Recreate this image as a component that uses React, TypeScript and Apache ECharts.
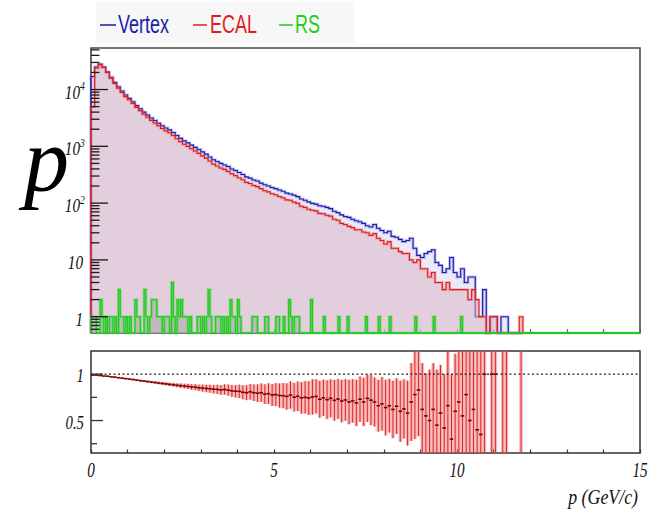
import React, { useEffect, useRef } from "react";
import * as echarts from "echarts";

// ---------- data ----------
const BIN_WIDTH = 0.1; // GeV
const vertexCounts = [
  17000, 25000, 28000, 25000, 20500, 16500, 13400, 11200, 9400, 8000,
  7000, 6100, 5200, 4600, 4000, 3550, 3150, 2850, 2550, 2300,
  2100, 1950, 1750, 1550, 1380, 1250, 1150, 1050, 960, 880,
  800, 730, 650, 580, 540, 500, 470, 440, 400, 375,
  345, 320, 290, 275, 255, 245, 225, 210, 200, 188,
  180, 170, 162, 150, 145, 138, 130, 118, 112, 105,
  99, 96, 90, 88, 84, 80, 72, 68, 62, 58,
  56, 52, 49, 47, 44, 40, 38, 42, 36, 33,
  30, 32, 26, 25, 23, 21, 22, 24, 16, 12,
  11, 13, 14, 15, 9, 8, 6, 7, 11, 6,
  5, 7, 4, 5, 5, 1, 1, 3, 0, 1,
  1, 0, 1, 1, 0, 0, 0, 0,
];
const ecalCounts = [
  5000, 24000, 27500, 24500, 19900, 15900, 12800, 10600, 8900, 7500,
  6600, 5700, 4850, 4250, 3680, 3250, 2870, 2580, 2300, 2060,
  1870, 1730, 1550, 1360, 1210, 1090, 1000, 905, 825, 750,
  680, 620, 550, 485, 450, 415, 392, 362, 328, 305,
  280, 258, 232, 222, 204, 195, 180, 165, 158, 146,
  140, 131, 124, 114, 112, 104, 99, 88, 84, 78,
  75, 73, 66, 65, 61, 59, 52, 50, 44, 42,
  39, 37, 34, 34, 31, 30, 27, 29, 24, 22,
  19, 21, 16, 16, 14, 13, 13, 10, 9, 10,
  7, 7, 5, 6, 4, 4, 3, 4, 3, 3,
  3, 3, 3, 2, 3, 2, 1, 1, 0, 1,
  1, 0, 0, 0, 0, 0, 0, 1,
];
const RS_BIN_WIDTH = 0.05;
const RS_NBINS = 300;
const rsBinStart = [
  0.0, 0.05, 0.1, 0.25, 0.3, 0.4, 0.5, 0.55, 0.65, 0.75,
  0.8, 0.85, 0.95, 1.05, 1.2, 1.25, 1.3, 1.45, 1.5, 1.6,
  1.65, 1.7, 1.75, 1.8, 1.85, 1.9, 2.0, 2.05, 2.1, 2.2,
  2.25, 2.35, 2.4, 2.45, 2.5, 2.55, 2.6, 2.7, 2.9, 2.95,
  3.05, 3.15, 3.2, 3.25, 3.4, 3.45, 3.5, 3.6, 3.7, 3.8,
  3.85, 3.9, 4.0, 4.05, 4.4, 4.45, 4.5, 4.75, 4.8, 5.05,
  5.1, 5.25, 5.4, 5.45, 5.55, 5.6, 5.65, 6.0, 6.35, 6.75,
  7.0, 7.5, 7.85, 8.15, 8.85, 9.35, 10.1,
];
const rsCounts = [
  1, 1, 1, 2, 1, 1, 1, 1, 1, 3,
  1, 1, 1, 1, 2, 1, 1, 3, 1, 1,
  2, 2, 2, 1, 1, 1, 1, 1, 1, 4,
  1, 2, 1, 2, 1, 1, 1, 1, 1, 1,
  1, 1, 3, 1, 1, 1, 1, 1, 1, 2,
  1, 1, 2, 1, 1, 1, 1, 1, 1, 1,
  1, 1, 2, 1, 1, 1, 1, 2, 1, 1,
  1, 1, 1, 1, 1, 1, 1,
];
const ratioVal: (number | null)[] = [
  0.99, 0.99, 0.985, 0.98, 0.978, 0.972, 0.968, 0.962, 0.957, 0.952,
  0.947, 0.942, 0.936, 0.93, 0.926, 0.92, 0.915, 0.91, 0.905, 0.9,
  0.895, 0.89, 0.886, 0.88, 0.876, 0.872, 0.868, 0.862, 0.86, 0.853,
  0.85, 0.846, 0.843, 0.838, 0.836, 0.83, 0.835, 0.828, 0.82, 0.816,
  0.815, 0.805, 0.8, 0.81, 0.8, 0.795, 0.8, 0.785, 0.79, 0.775,
  0.78, 0.77, 0.768, 0.76, 0.775, 0.752, 0.762, 0.745, 0.75, 0.742,
  0.755, 0.76, 0.73, 0.745, 0.725, 0.74, 0.718, 0.732, 0.71, 0.722,
  0.7, 0.712, 0.69, 0.73, 0.7, 0.74, 0.72, 0.7, 0.66, 0.68,
  0.64, 0.66, 0.62, 0.655, 0.6, 0.625, 0.58, 0.7, 0.78, 0.83,
  0.62, 0.55, 0.5, 0.62, 0.45, 0.58, 0.42, 0.66, 0.3, 0.6,
  0.7, 0.55, 0.78, 0.5, 0.62, 0.4, 0.35, 1.0, null, 1.0,
  1.0, null, 0, 0, null, null, null, 2.5,
];
const ratioErr: (number | null)[] = [
  0.004, 0.003, 0.003, 0.003, 0.004, 0.004, 0.005, 0.005, 0.006, 0.006,
  0.007, 0.008, 0.009, 0.009, 0.01, 0.011, 0.012, 0.013, 0.014, 0.015,
  0.017, 0.018, 0.02, 0.022, 0.024, 0.026, 0.028, 0.03, 0.033, 0.035,
  0.038, 0.04, 0.043, 0.046, 0.05, 0.053, 0.056, 0.06, 0.064, 0.068,
  0.072, 0.076, 0.08, 0.085, 0.09, 0.095, 0.1, 0.106, 0.112, 0.118,
  0.124, 0.13, 0.136, 0.142, 0.148, 0.155, 0.16, 0.17, 0.175, 0.182,
  0.19, 0.185, 0.2, 0.195, 0.21, 0.205, 0.22, 0.215, 0.23, 0.225,
  0.24, 0.235, 0.25, 0.245, 0.26, 0.255, 0.27, 0.265, 0.28, 0.29,
  0.3, 0.29, 0.31, 0.3, 0.33, 0.32, 0.35, 0.42, 0.48, 0.5,
  0.5, 0.46, 0.55, 0.5, 0.6, 0.52, 0.58, 0.62, 0.7, 0.62,
  0.7, 0.8, 0.9, 0.8, 1.0, 1.2, 1.5, 2, null, 2,
  2, null, 3, 3, null, null, null, 3,
];

const yTopMajor = [1, 10, 100, 1000, 10000];
const yTopLabelBase = ["1", "10", "10", "10", "10"];
const yTopLabelExp = ["", "", "2", "3", "4"];
const yTopMinorMultipliers = [2, 3, 4, 5, 6, 7, 8, 9];
const yTopMinorBelowOne = [0.6, 0.7, 0.8, 0.9];
const ratioMajor = [0.5, 1];
const ratioMajorLabels = ["0.5", "1"];
const ratioMinor = [0.25, 0.75];
const xLabelValues = [0, 5, 10, 15];
const legendNames = ["Vertex", "ECAL", "RS"];

const X_MIN = 0;
const X_MAX = 15;
const Y_TOP_MIN = 0.516;
const Y_TOP_MAX = 53900;
const R_MIN = 0.15;
const R_MAX = 1.25;

const C_VERTEX = "#1c1ca8";
const C_ECAL = "#e01c1c";
const C_RS = "#1ecf1e";
const SERIF = '"Liberation Serif", "Times New Roman", serif';
const SANS = '"Liberation Sans", Arial, sans-serif';

function histRenderer(
  counts: number[],
  width: number,
  fill: string,
  stroke: string,
  halo: string,
  lw: number
) {
  return (params: any, api: any) => {
    const cs = params.coordSys;
    const bottom = cs.y + cs.height;
    const toY = (v: number) =>
      v > 0 ? Math.min(bottom, Math.max(cs.y, api.coord([0, v])[1])) : bottom;
    const px = (x: number) => api.coord([x, 1])[0];
    const pts: number[][] = [[px(0), bottom]];
    for (let i = 0; i < counts.length; i++) {
      const y = toY(counts[i]);
      pts.push([px(i * width), y]);
      pts.push([px((i + 1) * width), y]);
    }
    pts.push([px(counts.length * width), bottom]);
    return {
      type: "group",
      children: [
        { type: "polygon", shape: { points: pts }, style: { fill, stroke: null } },
        { type: "polyline", shape: { points: pts }, style: { fill: null, stroke: halo, lineWidth: lw + 1.8 } },
        { type: "polyline", shape: { points: pts }, style: { fill: null, stroke, lineWidth: lw } },
      ],
    };
  };
}

function textEl(x: number, y: number, text: string, size: number, align: string, scaleX: number, fill = "#111", family = SERIF, italic = true) {
  return {
    type: "text",
    x,
    y,
    scaleX,
    style: {
      text,
      fill,
      fontSize: size,
      fontFamily: family,
      fontStyle: italic ? "italic" : "normal",
      align,
      textAlign: align,
      verticalAlign: "middle",
      textVerticalAlign: "middle",
    },
  };
}

export default function App() {
  const ref = useRef<HTMLDivElement>(null);

  useEffect(() => {
    if (!ref.current) return;
    const chart = echarts.init(ref.current, undefined, { renderer: "svg" });

    // RS full histogram table from sparse bins
    const rsFull: number[] = new Array(RS_NBINS).fill(0);
    rsBinStart.forEach((s, k) => {
      rsFull[Math.round(s / RS_BIN_WIDTH)] = rsCounts[k];
    });

    // y ticks of the top panel
    const topTicks: number[][] = [];
    yTopMajor.forEach((v) => topTicks.push([0, v, 17]));
    yTopMajor.forEach((d) =>
      yTopMinorMultipliers.forEach((m) => {
        if (d * m <= Y_TOP_MAX) topTicks.push([0, d * m, 8.5]);
      })
    );
    yTopMinorBelowOne.forEach((v) => topTicks.push([0, v, 8.5]));
    const topLabels = yTopMajor.map((v, i) => [0, v, i]);

    const ratioTicks: number[][] = [
      ...ratioMajor.map((v) => [0, v, 12]),
      ...ratioMinor.map((v) => [0, v, 6]),
    ];
    const ratioLabels = ratioMajor.map((v, i) => [0, v, i]);

    const ratioData: number[][] = [];
    ratioVal.forEach((v, i) => {
      const e = ratioErr[i];
      if (v !== null && e !== null) ratioData.push([(i + 0.5) * BIN_WIDTH, v, e]);
    });

    const option: any = {
      animation: false,
      backgroundColor: "#ffffff",
      grid: [
        { left: 91, top: 48, width: 549, height: 285, show: true, borderColor: "#4a4a4a", borderWidth: 1.6, backgroundColor: "transparent" },
        { left: 91, top: 351, width: 549, height: 102, show: true, borderColor: "#333", borderWidth: 1.5, backgroundColor: "transparent" },
      ],
      xAxis: [
        {
          gridIndex: 0, type: "value", min: X_MIN, max: X_MAX, interval: 1,
          axisLine: { show: false }, axisLabel: { show: false }, splitLine: { show: false },
          axisTick: { show: true, inside: true, length: 4, lineStyle: { color: "#666", width: 1.2 } },
        },
        {
          gridIndex: 1, type: "value", min: X_MIN, max: X_MAX, interval: 1,
          axisLine: { show: false }, axisLabel: { show: false }, splitLine: { show: false },
          axisTick: { show: true, inside: true, length: 3.5, lineStyle: { color: "#333", width: 1.2 } },
        },
      ],
      yAxis: [
        {
          gridIndex: 0, type: "log", logBase: 10, min: Y_TOP_MIN, max: Y_TOP_MAX,
          axisLine: { show: false }, axisTick: { show: false }, axisLabel: { show: false }, splitLine: { show: false },
        },
        {
          gridIndex: 1, type: "value", min: R_MIN, max: R_MAX,
          axisLine: { show: false }, axisTick: { show: false }, axisLabel: { show: false }, splitLine: { show: false },
        },
      ],
      series: [
        {
          name: legendNames[0], type: "custom", xAxisIndex: 0, yAxisIndex: 0, z: 2,
          data: [[0, 1]], encode: { x: 0, y: 1 },
          renderItem: histRenderer(vertexCounts, BIN_WIDTH, "rgba(205,205,240,0.42)", C_VERTEX, "rgba(90,90,220,0.35)", 1.1),
        },
        {
          name: legendNames[1], type: "custom", xAxisIndex: 0, yAxisIndex: 0, z: 3,
          data: [[0, 1]], encode: { x: 0, y: 1 },
          renderItem: histRenderer(ecalCounts, BIN_WIDTH, "rgba(220,180,196,0.52)", C_ECAL, "rgba(235,90,90,0.35)", 1.1),
        },
        {
          name: legendNames[2], type: "custom", xAxisIndex: 0, yAxisIndex: 0, z: 4,
          data: [[0, 1]], encode: { x: 0, y: 1 },
          renderItem: histRenderer(rsFull, RS_BIN_WIDTH, "rgba(150,160,150,0.45)", C_RS, "rgba(60,210,60,0.35)", 1.3),
        },
        {
          type: "custom", xAxisIndex: 0, yAxisIndex: 0, z: 6, silent: true,
          data: topTicks, encode: { x: 0, y: 1 },
          renderItem: (params: any, api: any) => {
            const cs = params.coordSys;
            const y = api.coord([0, api.value(1)])[1];
            return { type: "line", shape: { x1: cs.x, y1: y, x2: cs.x + api.value(2), y2: y }, style: { stroke: "#1a1a1a", lineWidth: 1.3 } };
          },
        },
        {
          type: "custom", xAxisIndex: 0, yAxisIndex: 0, z: 6, silent: true,
          data: topLabels, encode: { x: 0, y: 1 },
          renderItem: (params: any, api: any) => {
            const cs = params.coordSys;
            const idx = api.value(2);
            const y = api.coord([0, api.value(1)])[1] + 3;
            const base = yTopLabelBase[idx];
            const exp = yTopLabelExp[idx];
            const children: any[] = [];
            if (exp) {
              children.push(textEl(cs.x - 11, y, base, 19, "right", 0.8));
              children.push(textEl(cs.x - 11, y - 7, exp, 12, "left", 0.8));
            } else {
              children.push(textEl(cs.x - 8, y, base, 19, "right", 0.8));
            }
            return { type: "group", children };
          },
        },
        {
          type: "custom", xAxisIndex: 1, yAxisIndex: 1, z: 4, silent: true,
          data: ratioData, encode: { x: 0, y: 1 },
          renderItem: (params: any, api: any) => {
            const cs = params.coordSys;
            const top = cs.y;
            const bottom = cs.y + cs.height;
            const clamp = (y: number) => Math.min(bottom, Math.max(top, y));
            const xc = api.value(0);
            const v = api.value(1);
            const e = api.value(2);
            const p = api.coord([xc, v]);
            const y1 = clamp(api.coord([xc, v + e])[1]);
            const y2 = clamp(api.coord([xc, v - e])[1]);
            const xl = api.coord([xc - BIN_WIDTH / 2, v])[0];
            const xr = api.coord([xc + BIN_WIDTH / 2, v])[0];
            const children: any[] = [
              { type: "line", shape: { x1: p[0], y1, x2: p[0], y2 }, style: { stroke: "rgba(236,110,110,0.5)", lineWidth: 3.6 } },
              { type: "line", shape: { x1: p[0], y1, x2: p[0], y2 }, style: { stroke: "#e02626", lineWidth: 1 } },
            ];
            if (p[1] >= top && p[1] <= bottom) {
              children.push({ type: "line", shape: { x1: xl, y1: p[1], x2: xr, y2: p[1] }, style: { stroke: "#7a0000", lineWidth: 1.6 } });
            }
            return { type: "group", children };
          },
        },
        {
          type: "line", xAxisIndex: 1, yAxisIndex: 1, z: 5, silent: true,
          symbol: "none", data: [[X_MIN, 1], [X_MAX, 1]],
          lineStyle: { color: "#222", width: 1.2, type: [2, 2.5] },
        },
        {
          type: "custom", xAxisIndex: 1, yAxisIndex: 1, z: 6, silent: true,
          data: ratioTicks, encode: { x: 0, y: 1 },
          renderItem: (params: any, api: any) => {
            const cs = params.coordSys;
            const y = api.coord([0, api.value(1)])[1];
            return { type: "line", shape: { x1: cs.x, y1: y, x2: cs.x + api.value(2), y2: y }, style: { stroke: "#333", lineWidth: 1.3 } };
          },
        },
        {
          type: "custom", xAxisIndex: 1, yAxisIndex: 1, z: 6, silent: true,
          data: ratioLabels, encode: { x: 0, y: 1 },
          renderItem: (params: any, api: any) => {
            const cs = params.coordSys;
            const y = api.coord([0, api.value(1)])[1] + 2;
            return textEl(cs.x - 7, y, ratioMajorLabels[api.value(2)], 19, "right", 0.78);
          },
        },
        {
          type: "custom", xAxisIndex: 1, yAxisIndex: 1, z: 6, silent: true,
          data: xLabelValues.map((v) => [v, R_MIN]), encode: { x: 0, y: 1 },
          renderItem: (params: any, api: any) => {
            const cs = params.coordSys;
            const x = api.coord([api.value(0), R_MIN])[0];
            const v = api.value(0);
            const t = String(v);
            const w = t.length * 10 * 0.76;
            return textEl(x - w / 2, cs.y + cs.height + 17, t, 20, "left", 0.76);
          },
        },
      ],
      graphic: [
        { type: "rect", shape: { x: 96, y: 2, width: 258, height: 41 }, style: { fill: "#f7f7f7" }, z: 0 },
        { type: "line", shape: { x1: 100, y1: 25, x2: 116, y2: 25 }, style: { stroke: C_VERTEX, lineWidth: 1.5 } },
        { ...textEl(118, 24.5, legendNames[0], 25, "left", 0.72, C_VERTEX, SANS, false) },
        { type: "line", shape: { x1: 193, y1: 25, x2: 207, y2: 25 }, style: { stroke: C_ECAL, lineWidth: 1.5 } },
        { ...textEl(210, 24.5, legendNames[1], 25, "left", 0.72, C_ECAL, SANS, false) },
        { type: "line", shape: { x1: 279, y1: 25, x2: 293, y2: 25 }, style: { stroke: C_RS, lineWidth: 1.5 } },
        { ...textEl(295, 24.5, legendNames[2], 25, "left", 0.72, C_RS, SANS, false) },
        { ...textEl(24, 160, "p", 90, "left", 1, "#000") },
        { ...textEl(638, 497, "p (GeV/c)", 21, "right", 0.85, "#111") },
      ],
    };

    chart.setOption(option);
    return () => chart.dispose();
  }, []);

  return (
    <div
      ref={ref}
      style={{ position: "absolute", left: 0, top: 0, width: 649, height: 512, background: "#fff" }}
    />
  );
}
